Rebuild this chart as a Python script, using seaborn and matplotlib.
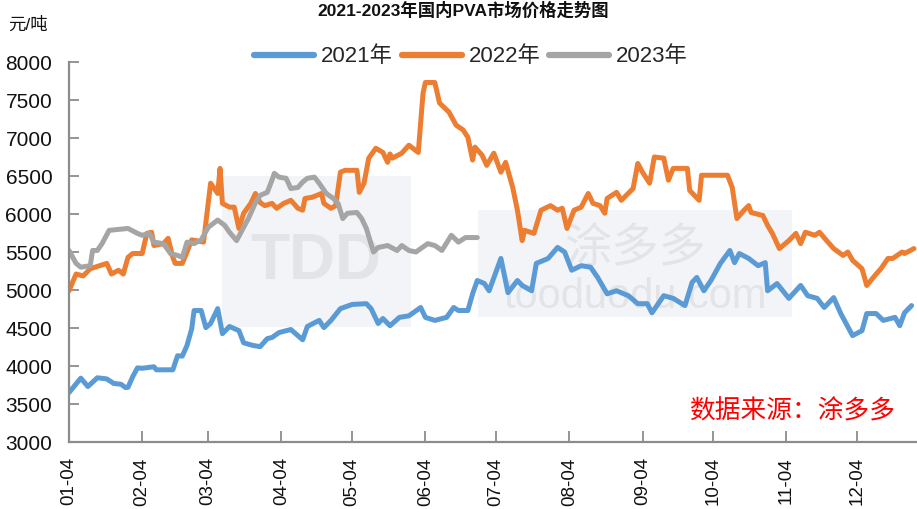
import numpy as np
import pandas as pd
import matplotlib
matplotlib.use("Agg")
import matplotlib.pyplot as plt
import matplotlib.dates as mdates
from matplotlib.patches import Rectangle
import seaborn as sns

# ---------------- data ----------------
# x = days after 01-04, y = price (元/吨)
days_2021 = [0, 5, 8, 12, 16, 19, 22, 24, 25, 27, 29, 31, 36, 37, 44, 46, 48, 50, 52, 53, 56, 58, 60, 63, 65,
             68, 72, 74, 78, 81, 84, 86, 89, 94, 99, 101, 106, 108, 111, 115, 120, 126, 128, 131, 133, 136, 140,
             144, 149, 151, 155, 160, 163, 165, 169, 171, 173, 176, 178, 183, 186, 190, 192, 196, 198, 203, 207,
             210, 213, 217, 221, 224, 228, 232, 237, 241, 245, 247, 252, 256, 261, 264, 266, 269, 272, 276, 280,
             282, 284, 288, 292, 295, 296, 300, 305, 310, 313, 317, 320, 324, 327, 332, 336, 338, 342, 345, 350,
             352, 354, 357]
vals_2021 = [3650, 3840, 3730, 3845, 3830, 3770, 3760, 3715, 3720, 3860, 3975, 3970, 3990, 3950, 3950, 4135,
             4130, 4270, 4490, 4730, 4730, 4505, 4560, 4755, 4425, 4520, 4465, 4305, 4270, 4255, 4360, 4375,
             4440, 4480, 4345, 4520, 4600, 4505, 4600, 4755, 4810, 4820, 4755, 4560, 4625, 4530, 4640, 4660,
             4770, 4640, 4600, 4640, 4770, 4730, 4730, 4950, 5125, 5085, 4990, 5415, 4965, 5125, 5060, 4990,
             5350, 5415, 5560, 5500, 5260, 5320, 5300, 5165, 4950, 4990, 4925, 4820, 4820, 4700, 4925, 4890,
             4795, 5100, 5165, 4990, 5125, 5350, 5520, 5360, 5480, 5415, 5320, 5360, 4990, 5085, 4890, 5060,
             4925, 4890, 4770, 4900, 4690, 4400, 4465, 4690, 4690, 4600, 4640, 4530, 4700, 4795]

days_2022 = [0, 3, 6, 9, 13, 16, 18, 21, 23, 25, 27, 31, 33, 35, 36, 40, 42, 44, 45, 48, 50, 52, 57, 58, 60,
             63, 64, 65, 68, 70, 72, 74, 77, 79, 81, 83, 86, 88, 91, 94, 97, 99, 100, 103, 107, 108, 111, 113,
             115, 117, 122, 123, 125, 127, 130, 133, 135, 136, 137, 141, 144, 148, 150, 151, 155, 157, 161, 164,
             167, 169, 171, 172, 175, 177, 180, 183, 185, 188, 190, 192, 193, 197, 200, 204, 207, 209, 211, 214,
             217, 220, 222, 225, 227, 228, 232, 234, 239, 241, 243, 246, 248, 252, 254, 256, 262, 263, 267, 268,
             279, 281, 283, 286, 288, 289, 294, 296, 298, 301, 305, 308, 310, 312, 316, 318, 321, 324, 328, 330,
             332, 336, 338, 342, 344, 347, 349, 353, 354, 358]
vals_2022 = [4990, 5210, 5185, 5280, 5320, 5350, 5210, 5260, 5210, 5430, 5480, 5480, 5745, 5760, 5585, 5610,
             5680, 5430, 5350, 5350, 5500, 5660, 5630, 5890, 6405, 6270, 6600, 6140, 6090, 6090, 5810, 6010,
             6140, 6270, 6150, 6110, 6140, 6075, 6140, 6180, 6075, 6050, 6205, 6220, 6270, 6140, 6075, 6110,
             6550, 6575, 6575, 6285, 6405, 6735, 6865, 6810, 6680, 6790, 6735, 6800, 6905, 6810, 7590, 7730,
             7730, 7460, 7340, 7170, 7105, 7010, 6710, 6880, 6775, 6640, 6800, 6550, 6680, 6350, 6050, 5650,
             5785, 5745, 6050, 6110, 6050, 6075, 5810, 6050, 6090, 6270, 6140, 6110, 6010, 6205, 6285, 6180,
             6335, 6665, 6550, 6405, 6750, 6735, 6445, 6600, 6600, 6310, 6180, 6510, 6510, 6350, 5940, 6050,
             6110, 6020, 5980, 5850, 5745, 5545, 5650, 5745, 5610, 5760, 5720, 5760, 5650, 5545, 5455, 5500,
             5390, 5280, 5060, 5210, 5280, 5415, 5415, 5500, 5480, 5545]

days_2023 = [0, 3, 5, 9, 10, 12, 14, 17, 25, 29, 31, 34, 36, 40, 43, 46, 48, 50, 53, 56, 59, 63, 66, 68, 71,
             74, 76, 79, 81, 84, 86, 87, 89, 92, 94, 97, 99, 101, 104, 106, 109, 112, 114, 116, 118, 122, 124,
             126, 129, 131, 135, 139, 141, 144, 147, 152, 155, 158, 162, 165, 168, 173]
vals_2023 = [5520, 5350, 5300, 5320, 5520, 5520, 5610, 5785, 5810, 5745, 5720, 5745, 5630, 5610, 5480, 5455,
             5430, 5630, 5610, 5660, 5825, 5920, 5850, 5760, 5650, 5825, 5940, 6150, 6245, 6285, 6445, 6535,
             6485, 6470, 6335, 6350, 6420, 6470, 6485, 6405, 6270, 6205, 6140, 5940, 6010, 6020, 5940, 5810,
             5500, 5560, 5585, 5520, 5585, 5520, 5500, 5610, 5585, 5520, 5720, 5630, 5690, 5690]

series_names = ["2021年", "2022年", "2023年"]
series_colors = ["#5B9BD5", "#ED7D31", "#A5A5A5"]
title_text = "2021-2023年国内PVA市场价格走势图"
unit_text = "元/吨"
source_text = "数据来源：涂多多"

# ---------------- build frame ----------------
base = pd.Timestamp("2021-01-04")
frames = []
for name, d, v in zip(series_names, [days_2021, days_2022, days_2023], [vals_2021, vals_2022, vals_2023]):
    frames.append(pd.DataFrame({"date": base + pd.to_timedelta(d, unit="D"), "price": v, "year": name}))
df = pd.concat(frames, ignore_index=True)

# ---------------- style ----------------
sns.set_theme(style="white")
plt.rcParams["font.family"] = ["Liberation Sans", "Noto Sans CJK SC"]
plt.rcParams["axes.unicode_minus"] = False

fig = plt.figure(figsize=(9.17, 5.09), dpi=100)
ax = fig.add_axes([69 / 917, 1 - 442 / 509, 1 - 69 / 917, (442 - 62) / 509])

sns.lineplot(data=df, x="date", y="price", hue="year", palette=series_colors, hue_order=series_names,
             linewidth=3.6, estimator=None, sort=False, ax=ax, legend=True)
for ln in ax.lines:
    ln.set_solid_joinstyle("round")
    ln.set_solid_capstyle("round")
    ln.set_zorder(3)

# faint watermark behind the lines
for (x0, y0, x1, y1) in [(222, 176, 411, 327), (478, 210, 792, 317)]:
    ax.add_patch(Rectangle((x0 / 917, 1 - y1 / 509), (x1 - x0) / 917, (y1 - y0) / 509,
                           transform=fig.transFigure, facecolor="#F3F4F7", edgecolor="none", zorder=0.5,
                           clip_on=False))
ax.text(316 / 917, 1 - 262 / 509, "TDD", transform=fig.transFigure, fontsize=46, color="#E2E4E8",
        ha="center", va="center", fontweight="bold", zorder=1)
ax.text(635 / 917, 1 - 250 / 509, "涂多多", transform=fig.transFigure, fontsize=34, color="#E2E4E8",
        ha="center", va="center", zorder=1)
ax.text(635 / 917, 1 - 297 / 509, "tooduodu.com", transform=fig.transFigure, fontsize=30, color="#E2E4E8",
        ha="center", va="center", zorder=1)

ax.set_ylim(3000, 8000)
ax.set_yticks(np.arange(3000, 8001, 500))
ax.set_xlim(base, base + pd.Timedelta(days=359.3))
ax.xaxis.set_major_locator(mdates.DayLocator(bymonthday=4))
ax.xaxis.set_major_formatter(mdates.DateFormatter("%m-%d"))
ax.set_xlabel("")
ax.set_ylabel("")

for side in ["top", "right"]:
    ax.spines[side].set_visible(False)
for side in ["left", "bottom"]:
    ax.spines[side].set_color("#8C8C8C")
    ax.spines[side].set_linewidth(1.6)
    ax.spines[side].set_zorder(4)

ax.tick_params(axis="y", direction="in", length=7, width=1.3, color="#8C8C8C", labelsize=15,
               labelcolor="#111111", pad=12, left=True)
ax.tick_params(axis="x", direction="in", length=8, width=1.3, color="#8C8C8C", labelsize=13.5,
               labelcolor="#111111", pad=11, bottom=True, labelrotation=90)
for lab in ax.get_xticklabels():
    lab.set_va("top")
    lab.set_ha("center")

# legend
handles, labels = ax.get_legend_handles_labels()
ax.legend(handles, labels, loc="center", bbox_to_anchor=(471 / 917, 1 - 57 / 509),
          bbox_transform=fig.transFigure, ncol=3, frameon=False, fontsize=16, handlelength=2.7,
          handletextpad=0.3, columnspacing=0.4)
for lh in ax.get_legend().get_lines():
    lh.set_linewidth(4.5)

# texts
fig.text(463 / 917, 1 - 2 / 509, title_text, fontsize=12.5, fontweight="bold", ha="center", va="top",
         color="#111111")
fig.text(8 / 917, 1 - 25 / 509, unit_text, fontsize=12.5, ha="left", va="center", color="#111111")
fig.text(792 / 917, 1 - 411 / 509, source_text, fontsize=18.5, ha="center", va="center", color="#FF0000",
         style="italic")

fig.savefig("out.png", dpi=100)
